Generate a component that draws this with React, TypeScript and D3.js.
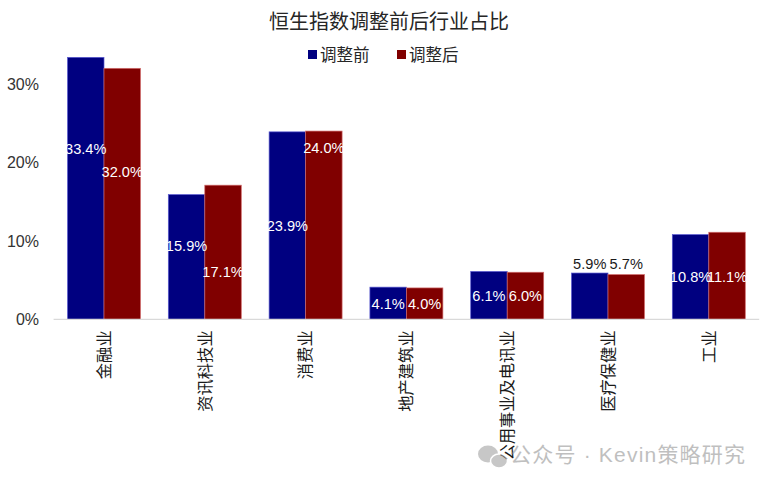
import React, { useEffect } from 'react';
import * as d3 from 'd3';

const categories = ['金融业', '资讯科技业', '消费业', '地产建筑业', '公用事业及电讯业', '医疗保健业', '工业'];
const seriesNames = ['调整前', '调整后'];
const before = [33.4, 15.9, 23.9, 4.1, 6.1, 5.9, 10.8];
const after = [32.0, 17.1, 24.0, 4.0, 6.0, 5.7, 11.1];
// where each value label sits, in % units
const beforeLabelAt = [21.7, 9.4, 11.9, 1.95, 3.0, 7.1, 5.4];
const afterLabelAt = [18.8, 6.1, 21.9, 1.95, 3.0, 7.1, 5.4];
// labels drawn above the bar (dark) instead of inside (white)
const outsideLabel = ['医疗保健业'];
const yTicks = [0, 10, 20, 30];

const COLORS = ['#000080', '#800000'];
const STROKES = ['#5a5ad0', '#d06a6a'];
const FONT = '"Liberation Sans", Arial, "Noto Sans CJK SC", sans-serif';

const W = 768;
const H = 486;

const App: React.FC = () => {
  useEffect(() => {
    document.body.style.margin = '0';
  }, []);

  const x0 = d3
    .scaleBand<string>()
    .domain(categories)
    .range([53.6, 759.2])
    .paddingInner(0.276)
    .paddingOuter(0.138);

  const x1 = d3.scaleBand<string>().domain(seriesNames).range([0, x0.bandwidth()]).padding(0);

  const y = d3.scaleLinear().domain([0, 35]).range([319.3, 44.8]);

  const values = [before, after];
  const labelAt = [beforeLabelAt, afterLabelAt];

  const groups = categories.map((cat, i) => ({
    cat,
    bars: seriesNames.map((s, k) => ({
      series: s,
      k,
      value: values[k][i],
      labelAt: labelAt[k][i],
      outside: outsideLabel.includes(cat),
    })),
  }));

  const legendX = [308, 397];

  return (
    <svg width={W} height={H} style={{ display: 'block', fontFamily: FONT }}>
      <rect width={W} height={H} fill="#fff" />

      {/* title */}
      <text x={389} y={29} textAnchor="middle" fontSize={20} fill="#262626">
        恒生指数调整前后行业占比
      </text>

      {/* legend */}
      {seriesNames.map((s, k) => (
        <g key={s} transform={`translate(${legendX[k]}, 0)`}>
          <rect x={0} y={50} width={9} height={9} fill={COLORS[k]} />
          <text x={12} y={60.5} fontSize={16.5} fill="#262626">
            {s}
          </text>
        </g>
      ))}

      {/* y tick labels */}
      {yTicks.map((t) => (
        <text key={t} x={39} y={y(t)} dy="0.36em" textAnchor="end" fontSize={16} fill="#333">
          {`${t}%`}
        </text>
      ))}

      {/* bars */}
      {groups.map((g) => (
        <g key={g.cat} transform={`translate(${x0(g.cat)}, 0)`}>
          {g.bars.map((b) => (
            <rect
              key={b.series}
              x={x1(b.series)}
              y={y(b.value)}
              width={x1.bandwidth()}
              height={y(0) - y(b.value)}
              fill={COLORS[b.k]}
              stroke={STROKES[b.k]}
              strokeWidth={0.7}
            />
          ))}
        </g>
      ))}

      {/* axis line */}
      <line x1={53.6} x2={759.2} y1={y(0)} y2={y(0)} stroke="#d9d9d9" strokeWidth={1.2} />

      {/* value labels */}
      {groups.map((g) =>
        g.bars.map((b) => (
          <text
            key={`${g.cat}-${b.series}`}
            x={(x0(g.cat) || 0) + (x1(b.series) || 0) + x1.bandwidth() / 2}
            y={y(b.labelAt)}
            dy="0.36em"
            textAnchor="middle"
            fontSize={14.6}
            fill={b.outside ? '#1a1a1a' : '#ffffff'}
          >
            {`${b.value.toFixed(1)}%`}
          </text>
        ))
      )}

      {/* category labels, rotated */}
      {categories.map((c) => {
        const cx = (x0(c) || 0) + x0.bandwidth() / 2;
        return (
          <text
            key={c}
            transform={`translate(${cx}, ${y(0) + 11}) rotate(-90)`}
            textAnchor="end"
            dy="0.36em"
            fontSize={16.3}
            fill="#1a1a1a"
          >
            {c}
          </text>
        );
      })}

      {/* watermark */}
      <g opacity={0.55}>
        <ellipse cx={488} cy={454} rx={10} ry={8.5} fill="#9a9a9a" />
        <ellipse cx={499} cy={461} rx={8.5} ry={7} fill="#9a9a9a" stroke="#fff" strokeWidth={1.5} />
        <text x={510} y={462} fontSize={21} fill="#8c8c8c" letterSpacing={1.2}>
          公众号 · Kevin策略研究
        </text>
      </g>
    </svg>
  );
};

export default App;
